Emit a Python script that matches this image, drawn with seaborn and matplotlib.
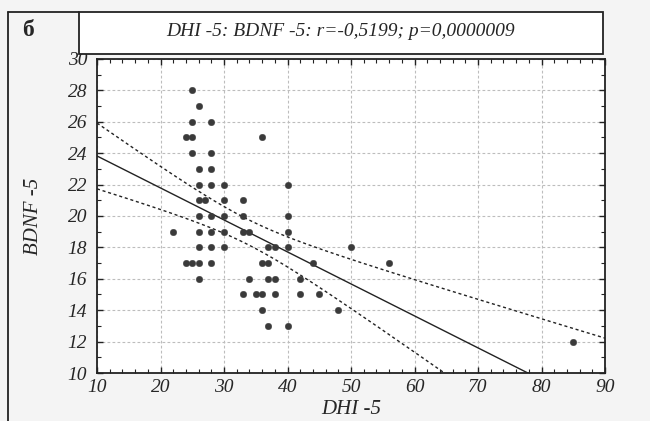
import numpy as np
import pandas as pd
import seaborn as sns
import matplotlib.pyplot as plt
from matplotlib.patches import Rectangle
from matplotlib.lines import Line2D
from matplotlib.ticker import MultipleLocator

dhi = [25, 26, 25, 28, 24, 25, 36, 25, 28, 26, 28, 26, 28, 30, 40,
       26, 27, 30, 33, 26, 28, 30, 33, 40, 22, 26, 28, 30, 33, 34, 40,
       26, 28, 30, 37, 38, 40, 50, 24, 25, 26, 28, 36, 37, 44, 56,
       26, 34, 37, 38, 42, 33, 35, 36, 38, 42, 45, 36, 48, 37, 40, 85]
bdnf = [28, 27, 26, 26, 25, 25, 25, 24, 24, 23, 23, 22, 22, 22, 22,
        21, 21, 21, 21, 20, 20, 20, 20, 20, 19, 19, 19, 19, 19, 19, 19,
        18, 18, 18, 18, 18, 18, 18, 17, 17, 17, 17, 17, 17, 17, 17,
        16, 16, 16, 16, 16, 15, 15, 15, 15, 15, 15, 14, 14, 13, 13, 12]
title = "DHI -5: BDNF -5: r=-0,5199; p=0,0000009"
panel = "б"

df = pd.DataFrame({"DHI -5": dhi, "BDNF -5": bdnf})

sns.set_theme(style="ticks")
plt.rcParams['font.family'] = ['Liberation Serif', 'DejaVu Serif']

W, H = 650, 421
fig = plt.figure(figsize=(W / 100, H / 100), dpi=100, facecolor='#f4f4f4')
ax = fig.add_axes([97 / W, 1 - 373 / H, 508 / W, 314 / H])
ax.set_facecolor('white')

# linear fit with 95% confidence band
x = df["DHI -5"].to_numpy(float)
y = df["BDNF -5"].to_numpy(float)
n = len(x)
b, a = np.polyfit(x, y, 1)
resid = y - (a + b * x)
s = np.sqrt((resid ** 2).sum() / (n - 2))
sxx = ((x - x.mean()) ** 2).sum()
xs = np.linspace(10, 90, 200)
yfit = a + b * xs
half = 2.0 * s * np.sqrt(1 / n + (xs - x.mean()) ** 2 / sxx)
fit = pd.DataFrame({"x": xs, "fit": yfit, "lo": yfit - half, "hi": yfit + half})

sns.lineplot(data=fit, x="x", y="fit", ax=ax, color='#222222', lw=1.0)
sns.lineplot(data=fit, x="x", y="lo", ax=ax, color='#222222', lw=1.0,
             linestyle=(0, (2.2, 2)))
sns.lineplot(data=fit, x="x", y="hi", ax=ax, color='#222222', lw=1.0,
             linestyle=(0, (2.2, 2)))
sns.scatterplot(data=df, x="DHI -5", y="BDNF -5", ax=ax, color='#3a3a3a',
                s=22, edgecolor='#3a3a3a', linewidth=0.3, zorder=5)

ax.set_xlim(10, 90)
ax.set_ylim(10, 30)
ax.xaxis.set_major_locator(MultipleLocator(10))
ax.xaxis.set_minor_locator(MultipleLocator(2))
ax.yaxis.set_major_locator(MultipleLocator(2))
ax.yaxis.set_minor_locator(MultipleLocator(1))
ax.grid(True, which='major', color='#bdbdbd', linestyle=(0, (2.5, 2)), lw=0.8)
ax.set_axisbelow(True)
ax.tick_params(which='both', direction='in', top=True, right=True, color='#222222',
               labelsize=14)
ax.tick_params(axis='x', pad=4)
ax.tick_params(axis='y', pad=7)
ax.tick_params(which='major', length=4, width=1)
ax.tick_params(which='minor', length=3, width=0.8)
for lab in ax.get_xticklabels() + ax.get_yticklabels():
    lab.set_fontstyle('italic')
for sp in ax.spines.values():
    sp.set_color('#222222')
    sp.set_linewidth(1.3)

ax.set_xlabel("DHI -5", fontsize=15, fontstyle='italic')
ax.set_ylabel("BDNF -5", fontsize=15, fontstyle='italic')
ax.xaxis.label.set_va('center')
ax.yaxis.label.set_va('center')
ax.xaxis.set_label_coords(0.5, -(409 - 373) / 314)
ax.yaxis.set_label_coords(-(97 - 33) / 508, 0.5)

# table-like frame and title box
fig.add_artist(Line2D([8 / W, 8 / W], [0, 1 - 12 / H], color='#222222', lw=1.3))
fig.add_artist(Line2D([8 / W, 79 / W], [1 - 12 / H, 1 - 12 / H], color='#222222', lw=1.3))
fig.add_artist(Rectangle((79 / W, 1 - 54 / H), (603 - 79) / W, 42 / H,
                         facecolor='white', edgecolor='#222222', lw=1.3))
fig.text(341 / W, 1 - 32 / H, title, ha='center', va='center', fontsize=14,
         fontstyle='italic')
fig.text(28 / W, 1 - 31 / H, panel, ha='center', va='center', fontsize=17,
         fontweight='bold')

fig.savefig("out.png", dpi=100, facecolor=fig.get_facecolor())
